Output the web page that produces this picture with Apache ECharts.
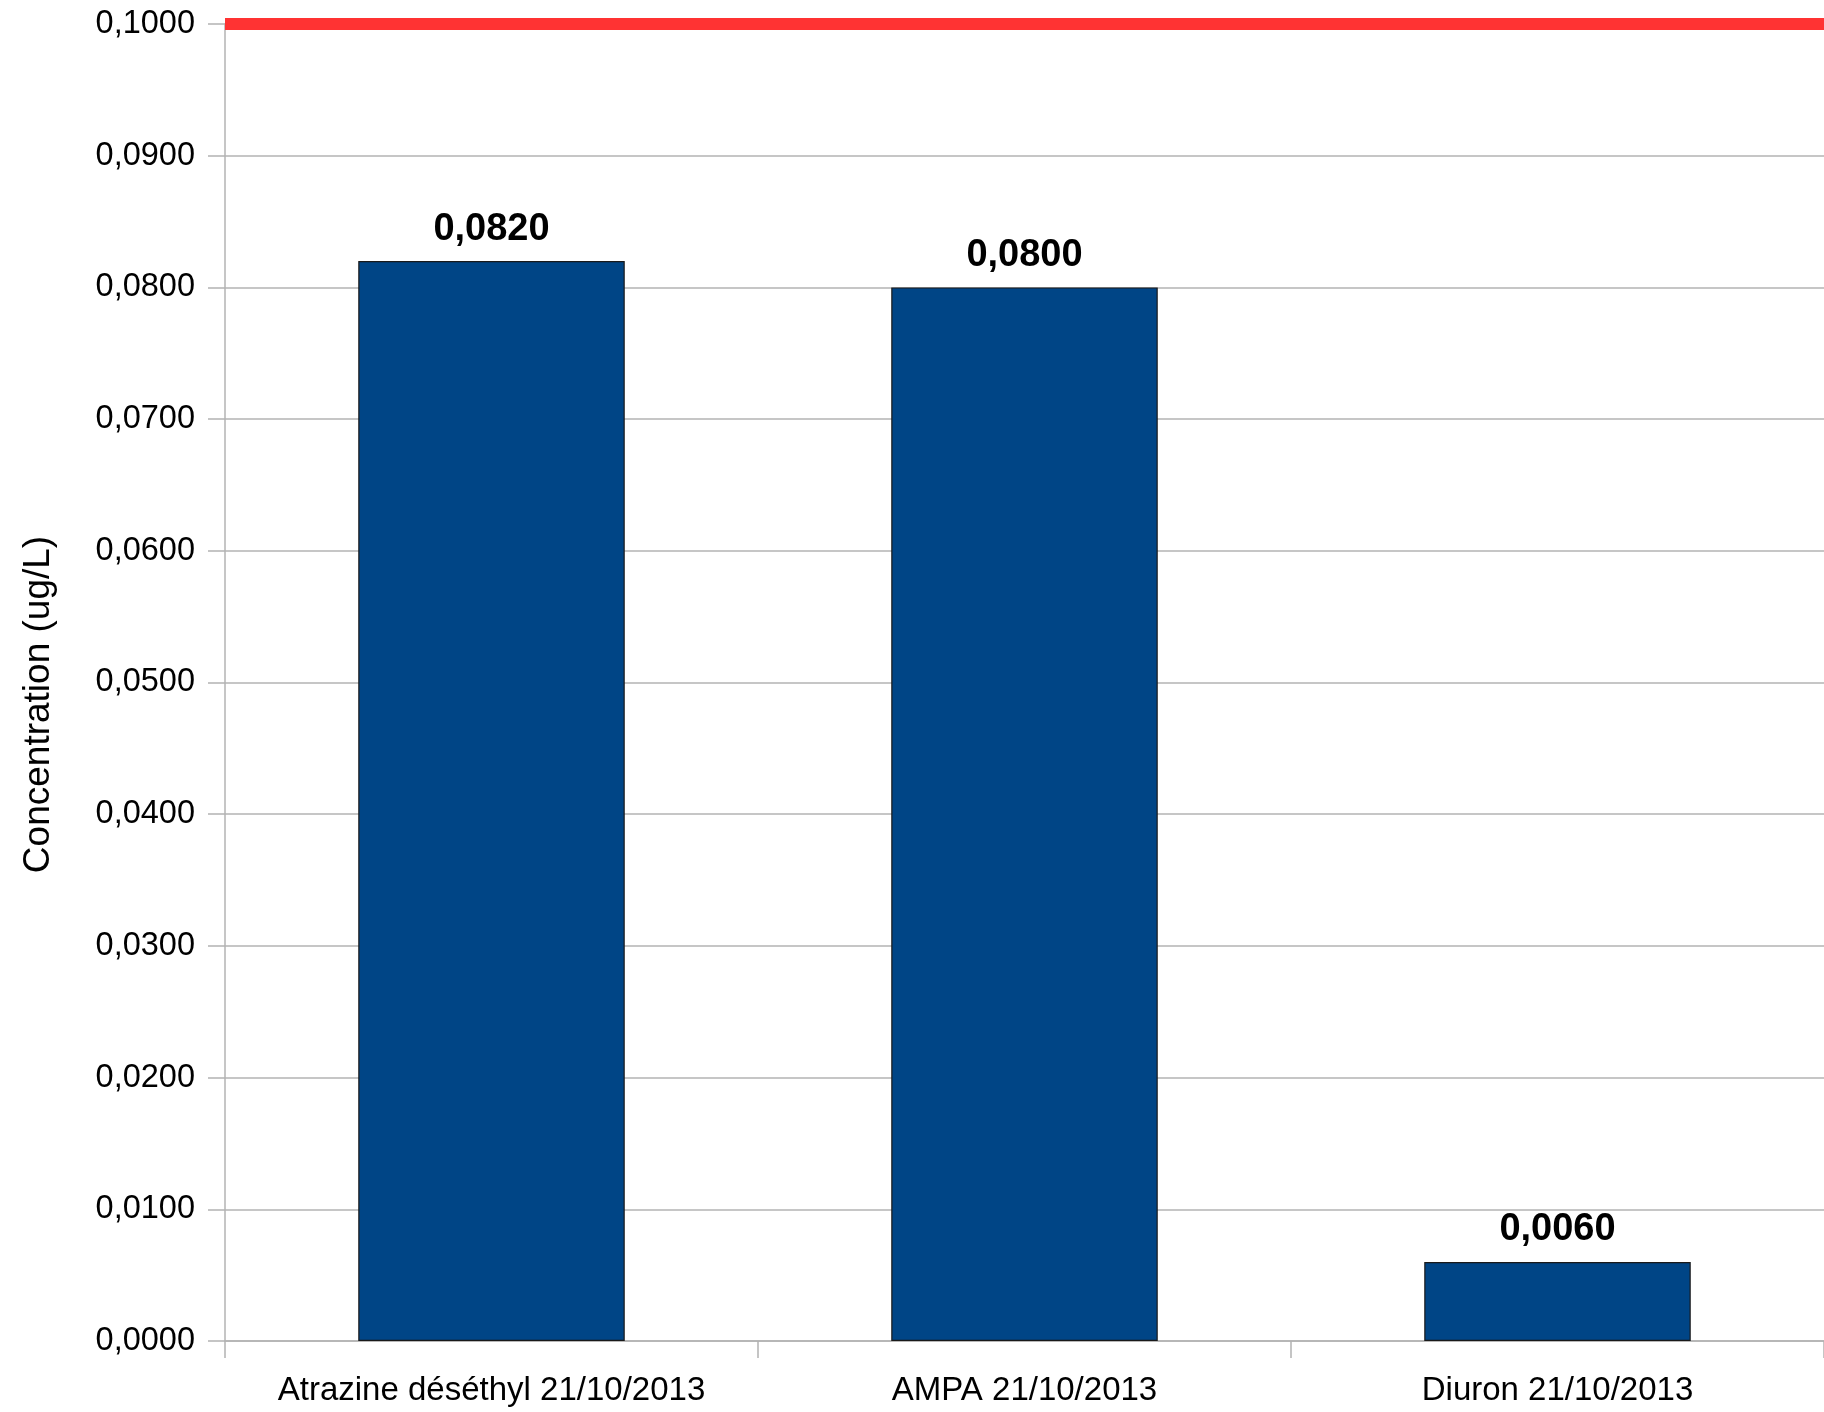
<!DOCTYPE html>
<html>
<head>
<meta charset="utf-8">
<script src="https://cdn.jsdelivr.net/npm/echarts@6/dist/echarts.min.js"></script>
<style>
html,body{margin:0;padding:0;background:#fff;}
#chart{width:1824px;height:1412px;}
</style>
</head>
<body>
<div id="chart"></div>
<script>
const categories = ['Atrazine déséthyl 21/10/2013', 'AMPA 21/10/2013', 'Diuron 21/10/2013'];
const values = [0.0820, 0.0800, 0.0060];
const limitValue = 0.1;
const yAxisName = 'Concentration (ug/L)';

const fmt = v => v.toFixed(4).replace('.', ',');
const FONT = '"Liberation Sans", Arial, sans-serif';

const chart = echarts.init(document.getElementById('chart'));
chart.setOption({
  animation: false,
  backgroundColor: '#ffffff',
  grid: { left: 225, right: -2, top: 24, bottom: 71, containLabel: false },
  xAxis: {
    type: 'category',
    data: categories,
    boundaryGap: true,
    axisLine: { show: true, lineStyle: { color: '#b3b3b3', width: 1.5 } },
    axisTick: { show: true, interval: 0, length: 17, alignWithLabel: false, lineStyle: { color: '#b3b3b3', width: 1.5 } },
    axisLabel: { color: '#000', fontFamily: FONT, fontSize: 33, margin: 33, interval: 0, hideOverlap: false },
    splitLine: { show: false }
  },
  yAxis: {
    type: 'value',
    min: 0,
    max: 0.1,
    interval: 0.01,
    name: yAxisName,
    nameLocation: 'middle',
    nameGap: 168,
    nameTextStyle: { color: '#000', fontFamily: FONT, fontSize: 37, padding: [0, 44, 0, 0] },
    axisLine: { show: true, lineStyle: { color: '#b3b3b3', width: 1.5 } },
    axisTick: { show: true, length: 17, lineStyle: { color: '#b3b3b3', width: 1.5 } },
    axisLabel: { color: '#000', fontFamily: FONT, fontSize: 32.5, margin: 30, formatter: fmt },
    splitLine: { show: true, lineStyle: { color: '#b3b3b3', width: 1.5 } }
  },
  series: [{
    type: 'bar',
    data: values,
    barWidth: '50%',
    itemStyle: { color: '#004586', borderColor: '#1a1a1a', borderWidth: 1.2 },
    label: {
      show: true,
      position: 'top',
      distance: 13,
      color: '#000',
      fontFamily: FONT,
      fontWeight: 'bold',
      fontSize: 38,
      formatter: p => fmt(p.value)
    },
    markLine: {
      silent: true,
      symbol: ['none', 'none'],
      label: { show: false },
      lineStyle: { color: '#ff3333', width: 12, type: 'solid' },
      data: [{ yAxis: limitValue }]
    }
  }]
});
</script>
</body>
</html>
